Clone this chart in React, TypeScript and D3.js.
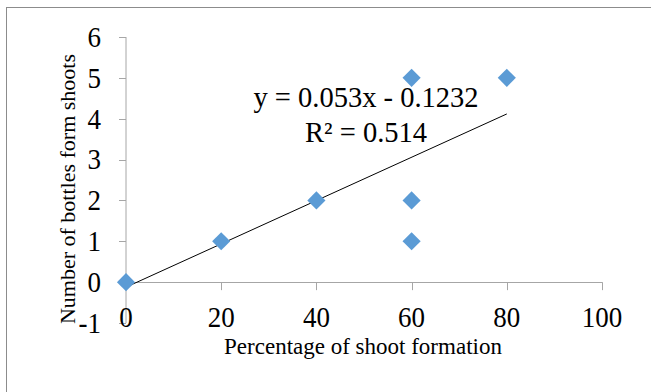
import React, { useEffect, useRef } from 'react';
import * as d3 from 'd3';

// scatter points
const xValues = [0, 20, 40, 60, 60, 60, 80];
const yValues = [0, 1, 2, 5, 2, 1, 5];
const xTicks = [0, 20, 40, 60, 80, 100];
const yTicks = [-1, 0, 1, 2, 3, 4, 5, 6];
const slope = 0.053;
const intercept = -0.1232;
const equationLines = ['y = 0.053x - 0.1232', 'R² = 0.514'];

const App = () => {
  const svgRef = useRef<SVGSVGElement>(null);

  useEffect(() => {
    const width = 651;
    const height = 392;
    const svg = d3.select(svgRef.current);
    svg.selectAll('*').remove();

    const font = 'Liberation Serif';

    const x = d3.scaleLinear().domain([0, 100]).range([126, 602]);
    const y = d3.scaleLinear().domain([-1, 6]).range([323, 37]);

    svg.append('rect')
      .attr('width', width)
      .attr('height', height)
      .attr('fill', '#fff');

    // outer chart border
    svg.append('rect')
      .attr('x', 6.5)
      .attr('y', 7.5)
      .attr('width', width)
      .attr('height', height)
      .attr('fill', 'none')
      .attr('stroke', '#8c8c8c')
      .attr('stroke-width', 1);

    const axisColor = '#a6a6a6';

    // y axis
    svg.append('line')
      .attr('x1', x(0)).attr('x2', x(0))
      .attr('y1', y(6)).attr('y2', y(-1))
      .attr('stroke', axisColor);
    yTicks.forEach(t => {
      svg.append('line')
        .attr('x1', x(0) - 7).attr('x2', x(0))
        .attr('y1', Math.round(y(t)) + 0.5).attr('y2', Math.round(y(t)) + 0.5)
        .attr('stroke', axisColor);
    });

    // x axis (crosses at 0)
    svg.append('line')
      .attr('x1', x(0)).attr('x2', x(100))
      .attr('y1', Math.round(y(0)) + 0.5).attr('y2', Math.round(y(0)) + 0.5)
      .attr('stroke', axisColor);
    xTicks.forEach(t => {
      svg.append('line')
        .attr('x1', Math.round(x(t)) + 0.5).attr('x2', Math.round(x(t)) + 0.5)
        .attr('y1', y(0)).attr('y2', y(0) + 8)
        .attr('stroke', axisColor);
    });

    const addText = (tx, ty, str, size, anchor, rotate = 0, stretch = 1) => {
      svg.append('text')
        .attr('transform', `translate(${tx},${ty}) rotate(${rotate}) scale(1,${stretch})`)
        .attr('text-anchor', anchor)
        .attr('dominant-baseline', 'central')
        .attr('font-family', font)
        .attr('font-size', size)
        .attr('fill', '#000')
        .text(str);
    };

    yTicks.forEach(t => addText(101, y(t), String(t), 27, 'end', 0, 1.08));
    xTicks.forEach(t => addText(x(t), 317, String(t), 27, 'middle', 0, 1.08));

    // trendline
    svg.append('line')
      .attr('x1', x(0)).attr('y1', y(intercept))
      .attr('x2', x(80)).attr('y2', y(slope * 80 + intercept))
      .attr('stroke', '#000')
      .attr('stroke-width', 1);

    // diamonds
    const diamond = d3.symbol().type(d3.symbolDiamond2).size(210);
    xValues.forEach((xv, i) => {
      svg.append('path')
        .attr('d', diamond())
        .attr('transform', `translate(${x(xv)},${y(yValues[i])})`)
        .attr('fill', '#5b9bd5');
    });

    // equation
    equationLines.forEach((l, i) => addText(366, 97 + i * 35, l, 28.5, 'middle'));

    // axis titles
    addText(363, 346, 'Percentage of shoot formation', 23, 'middle');
    addText(67, 189, 'Number of bottles form shoots', 22, 'middle', -90);
  }, []);

  return (
    <svg ref={svgRef} width={651} height={392}
      style={{ position: 'fixed', left: 0, top: 0, display: 'block' }} />
  );
};

export default App;
